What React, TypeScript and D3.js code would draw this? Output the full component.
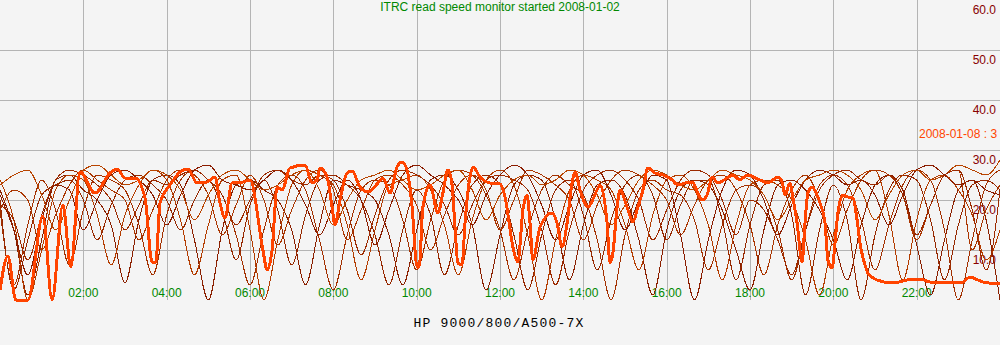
import React from "react";
import * as d3 from "d3";

const W = 1000;
const H = 345;
const PLOT_BOTTOM = 300;

const titleText = "ITRC read speed monitor started 2008-01-02";
const footerText = "HP 9000/800/A500-7X";
const legendText = "2008-01-08 : 3";

const xTickHours = [2, 4, 6, 8, 10, 12, 14, 16, 18, 20, 22];
const xTickLabels = ["02:00", "04:00", "06:00", "08:00", "10:00", "12:00", "14:00", "16:00", "18:00", "20:00", "22:00"];
const yTickValues = [10, 20, 30, 40, 50, 60];
const yTickLabels = ["10.0", "20.0", "30.0", "40.0", "50.0", "60.0"];

// thin series sampled every 20 minutes (73 samples, 00:00 .. 24:00)
const sampleHours = d3.range(73).map((i) => i / 3);

const day1 = [22,14,1,12,24,25,22,20,15,3.5,16,24,25,23,12,0,14,23,24,22,20,14,3,15,24,23,22,20,13,3,14,24,25,22,15,2,13,23,25,24,16,4,15,23,24,21,12,1,14,22,24,23,18,10,2,14,23,24,22,18,12,4,15,23,25,22,11,1,12,22,24,16,0];
const day2 = [18,3,15,24,18,7,18,25,24,22,15,5,17,24,26,24,21,13,3,14,23,25,22,12,2,13,22,24,23,16,6,16,24,26,25,21,14,4,14,22,25,23,21,12,0,13,22,24,22,21,16,6,15,22,23,21,14,4,14,23,25,23,16,6,15,23,26,24,14,0,12,23,26];
const day3 = [24,16,0,10,22,25,24,17,7,17,23,26,24,16,5,15,24,25,14,0,12,23,26,25,23,15,4,14,23,24,25,22,15,5,16,24,26,23,13,0,12,22,25,24,22,15,6,17,24,25,22,15,4,15,23,24,23,20,12,1,13,22,25,26,17,4,16,24,25,22,17,8,14];
const day4 = [20,2,12,21,23,24,20,12,19,24,25,23,20,14,20,24,18,8,19,24,18,7,17,24,25,23,20,13,3,14,22,17,5,15,23,25,23,13,2,13,22,24,17,6,16,23,25,21,12,19,24,24,16,4,15,23,24,17,1,14,23,16,0,13,22,25,24,16,4,15,23,24,22];
const day5 = [18,22,20,10,17,23,26,24,22,20,12,18,24,26,25,21,13,19,25,20,11,18,24,26,22,12,18,24,25,23,19,10,17,23,25,22,14,20,26,25,23,20,12,19,24,26,25,23,20,13,19,24,25,22,15,5,15,22,25,20,11,18,24,26,25,21,12,19,25,26,10,18,23];
const day6 = [21,14,5,16,23,22,14,20,25,26,24,21,15,21,26,27,24,23,22,24,26,24,19,13,19,24,20,11,18,25,27,25,23,20,15,21,25,27,25,19,12,19,25,26,21,14,20,25,24,13,0,12,22,26,25,20,13,19,24,26,25,23,24,21,15,21,26,27,25,23,24,22,21];
const day7 = [23,25,26,21,14,20,26,27,25,23,24,26,25,22,16,21,25,26,24,22,23,25,26,22,15,20,24,25,26,24,22,23,25,26,22,16,21,24,25,23,24,26,25,21,15,19,24,26,25,23,22,24,26,25,24,21,16,20,24,25,26,25,22,16,21,25,26,24,25,27,26,25,28];
const day8 = [19,16,8,17,24,26,25,23,20,14,19,24,23,25,26,24,21,15,20,25,26,24,23,25,24,18,9,17,24,26,25,23,19,13,19,24,25,24,22,14,3,14,22,25,26,24,20,12,18,24,26,25,20,13,20,18,12,5,14,22,25,26,24,23,25,21,13,19,25,26,18,6,22];

const thinSeries = [day1, day2, day3, day4, day5, day6, day7, day8];
const thinColors = ["#8b2000", "#a33000", "#b33c00", "#962800", "#aa3500", "#8a1c00", "#b84400", "#9c2a00"];

// highlighted day (2008-01-08), irregular sample times in hours
const highlightHours = [0,0.19,0.38,0.67,1.03,1.25,1.51,1.7,1.92,2.28,2.64,2.81,3,3.24,3.48,3.65,3.74,3.84,4.08,4.32,4.51,4.73,4.97,5.16,5.28,5.4,5.57,5.83,6,6.31,6.41,6.53,6.65,6.77,6.96,7.32,7.49,7.61,7.68,7.85,7.97,8.04,8.16,8.33,8.45,8.64,8.83,9.07,9.19,9.36,9.53,9.65,9.77,9.89,10.01,10.06,10.15,10.32,10.51,10.63,10.75,10.85,10.92,10.99,11.09,11.16,11.28,11.35,11.52,11.76,12,12.12,12.31,12.43,12.55,12.65,12.72,12.79,12.96,13.25,13.37,13.49,13.61,13.73,13.8,13.92,14.11,14.33,14.4,14.57,14.64,14.71,14.81,14.88,15.05,15.19,15.31,15.43,15.55,15.72,15.91,16.13,16.27,16.44,16.61,16.75,16.85,16.97,17.09,17.23,17.45,17.59,17.76,17.93,18.24,18.43,18.55,18.67,18.77,18.84,18.96,19.03,19.13,19.25,19.32,19.39,19.49,19.61,19.68,19.8,19.87,19.97,20.04,20.11,20.23,20.35,20.47,20.57,20.64,20.76,20.83,21.05,21.43,21.77,22.08,22.32,22.8,23.11,23.28,23.47,23.59,24];
const highlightValues = [2,8.8,0,0,16.8,0,19,6.6,25.6,21.4,25.4,26.2,24.4,24.4,20.4,7.6,7.6,19.4,23,25.6,26.2,23.4,23.6,24.6,19.4,16.4,23.4,23.6,24,10,6,10,22.6,22,26.4,27,23.4,24,26.4,24.6,18.6,15,20,25.4,25.8,22.6,21.6,23.4,24.4,21.4,26.6,27.6,26,18.6,6.6,6.6,18.6,23,17.4,21.4,26,23,14.6,7.4,7,15.4,24.6,26.6,24.6,23.4,23.2,20.6,10.6,7.6,18,21,15.4,8,14.6,17.4,15.4,10.6,15.4,23.4,25.6,22,18.6,22,23,15.4,7.4,9.4,18.6,22,18.6,15.6,18.6,22,26.4,25.4,25,24,23,23.4,23.6,21.4,20,21,24.6,23.4,24.4,25,24,25,24,23.4,24,24.6,23.6,21,23.4,20.4,15.4,7.6,15.4,21.4,22.6,21,19.4,15.4,8,6.4,11.4,17.4,21,20.6,20.4,16,11.4,7,5.4,4,3.4,4,4.2,3.6,3.4,3.6,4.6,4,3.6,3.2];
const highlightColor = "#ff4400";

export default function App() {
  const x = d3.scaleLinear().domain([0, 24]).range([0, W]);
  const y = d3.scaleLinear().domain([0, 60]).range([PLOT_BOTTOM, 0]);

  const thinLine = d3
    .line<number>()
    .x((_, i) => x(sampleHours[i]))
    .y((d) => y(d))
    .curve(d3.curveMonotoneX);

  const thickLine = d3
    .line<number>()
    .x((_, i) => x(highlightHours[i]))
    .y((d) => y(d))
    .curve(d3.curveMonotoneX);

  const font = "'Liberation Sans', Arial, sans-serif";

  return (
    <svg
      width={W}
      height={H}
      style={{ position: "absolute", left: 0, top: 0, display: "block", background: "#f4f4f4" }}
    >
      <rect x={0} y={0} width={W} height={H} fill="#f4f4f4" />
      <defs>
        <clipPath id="plotClip">
          <rect x={0} y={0} width={W} height={PLOT_BOTTOM + 2} />
        </clipPath>
      </defs>

      {/* grid */}
      <g stroke="#b4b4b4" strokeWidth={1} shapeRendering="crispEdges">
        {xTickHours.map((h) => (
          <line key={"vx" + h} x1={Math.round(x(h)) + 0.5} x2={Math.round(x(h)) + 0.5} y1={0} y2={PLOT_BOTTOM} />
        ))}
        {yTickValues.slice(0, 5).map((v) => (
          <line key={"hy" + v} x1={0} x2={W} y1={y(v) + 0.5} y2={y(v) + 0.5} />
        ))}
      </g>

      {/* y labels */}
      <g fontFamily={font} fontSize={12} fill="#880000" textAnchor="end">
        {yTickValues.map((v, i) => (
          <text key={"yl" + v} x={996} y={y(v) + 14}>
            {yTickLabels[i]}
          </text>
        ))}
      </g>

      {/* x labels */}
      <g fontFamily={font} fontSize={12} fill="#008800" textAnchor="middle">
        {xTickHours.map((h, i) => (
          <text key={"xl" + h} x={x(h)} y={297}>
            {xTickLabels[i]}
          </text>
        ))}
      </g>

      {/* title */}
      <text x={500} y={11} fontFamily={font} fontSize={12} fill="#008800" textAnchor="middle">
        {titleText}
      </text>

      {/* legend label */}
      <text x={919} y={138} fontFamily={font} fontSize={12} fill={highlightColor}>
        {legendText}
      </text>

      {/* series */}
      <g clipPath="url(#plotClip)" fill="none">
        {thinSeries.map((s, k) => (
          <path
            key={"s" + k}
            d={thinLine(s) || ""}
            stroke={thinColors[k]}
            strokeWidth={1}
            shapeRendering="crispEdges"
          />
        ))}
        <path
          d={thickLine(highlightValues) || ""}
          stroke={highlightColor}
          strokeWidth={3}
          shapeRendering="crispEdges"
        />
      </g>

      {/* footer */}
      <text
        x={499}
        y={327}
        fontFamily="'Liberation Mono', monospace"
        fontSize={13}
        letterSpacing={1.2}
        fill="#000000"
        textAnchor="middle"
      >
        {footerText}
      </text>
    </svg>
  );
}
